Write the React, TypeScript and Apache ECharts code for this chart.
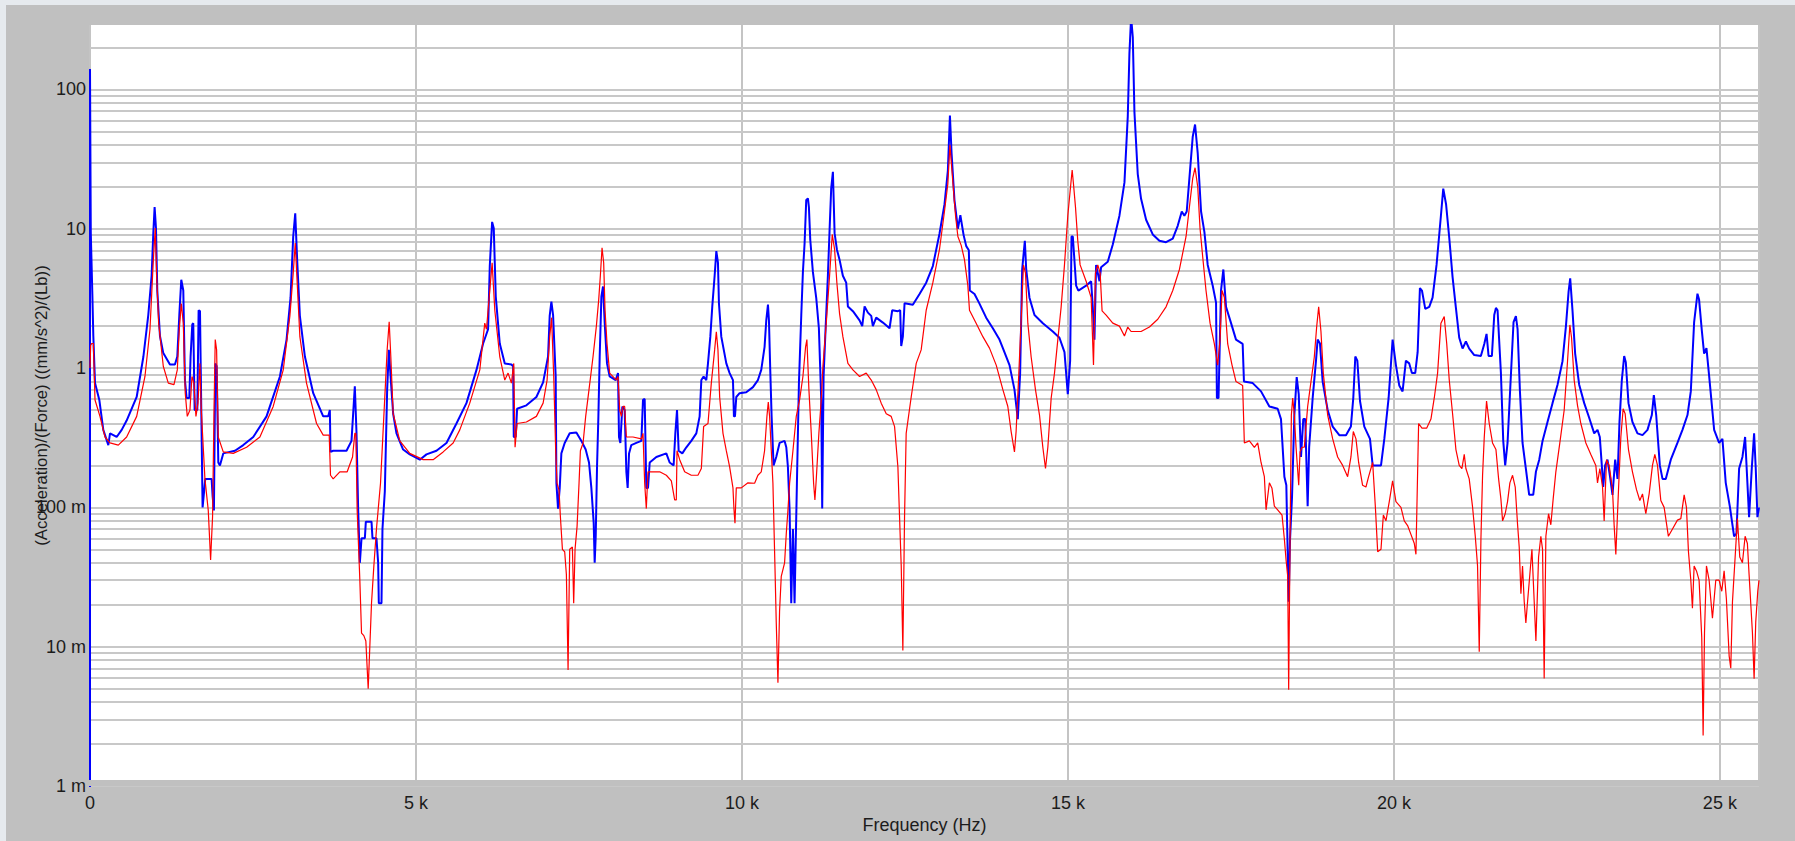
import React, { useEffect, useRef } from "react";
import * as echarts from "echarts";

// ---- Data (frequency in Hz, magnitude in (mm/s^2)/Lb) ----
const blueFreqHz = [
  0, 0, 12, 36, 51, 77, 143, 204, 281, 307, 409, 486, 562, 716, 818, 894, 945, 971, 991, 1012,
  1032, 1073, 1124, 1226, 1303, 1339, 1370, 1400, 1431, 1456, 1482, 1523, 1543, 1569, 1584, 1605, 1646, 1666, 1687, 1707,
  1727, 1768, 1865, 1881, 1901, 1922, 1943, 1968, 1993, 2044, 2223, 2351, 2504, 2708, 2913, 3015, 3076, 3117, 3148, 3178,
  3219, 3296, 3424, 3577, 3654, 3679, 3689, 3730, 3935, 4011, 4062, 4088, 4113, 4139, 4165, 4216, 4231, 4318, 4333, 4394,
  4420, 4430, 4471, 4486, 4522, 4558, 4584, 4614, 4650, 4701, 4803, 4905, 5059, 5161, 5314, 5468, 5621, 5774, 5928, 6030,
  6106, 6132, 6168, 6193, 6224, 6285, 6362, 6464, 6490, 6500, 6530, 6551, 6694, 6847, 6950, 7026, 7051, 7077, 7103, 7143,
  7154, 7179, 7205, 7230, 7281, 7358, 7460, 7537, 7603, 7654, 7690, 7726, 7741, 7757, 7777, 7798, 7818, 7844, 7869, 7895,
  7930, 7971, 8063, 8099, 8114, 8135, 8165, 8201, 8227, 8247, 8268, 8303, 8380, 8457, 8482, 8508, 8533, 8559, 8585, 8687,
  8840, 8891, 8952, 8978, 9004, 9029, 9085, 9147, 9223, 9300, 9351, 9377, 9412, 9453, 9479, 9515, 9545, 9581, 9607, 9632,
  9647, 9683, 9760, 9811, 9862, 9877, 9893, 9913, 9964, 10066, 10169, 10245, 10296, 10347, 10373, 10399, 10414, 10434, 10455, 10485,
  10526, 10577, 10654, 10680, 10705, 10731, 10756, 10782, 10807, 10823, 10843, 10874, 10910, 10935, 10961, 10986, 11012, 11027, 11048, 11088,
  11140, 11180, 11201, 11216, 11231, 11252, 11283, 11318, 11344, 11369, 11395, 11421, 11456, 11497, 11548, 11599, 11625, 11702, 11804, 11845,
  11881, 11932, 11983, 12008, 12059, 12162, 12264, 12305, 12391, 12427, 12443, 12468, 12494, 12621, 12724, 12826, 12928, 13030, 13107, 13158,
  13190, 13215, 13260, 13312, 13350, 13400, 13440, 13480, 13495, 13567, 13643, 13746, 13848, 13950, 14002, 14104, 14180, 14231, 14267, 14298,
  14339, 14360, 14410, 14487, 14615, 14768, 14870, 14947, 14998, 15034, 15055, 15075, 15126, 15160, 15279, 15356, 15381, 15407, 15432, 15484,
  15509, 15611, 15688, 15790, 15867, 15918, 15943, 15969, 15995, 16020, 16071, 16122, 16199, 16301, 16403, 16505, 16608, 16684, 16746, 16786,
  16822, 16863, 16914, 16950, 16991, 17042, 17093, 17144, 17221, 17272, 17285, 17310, 17348, 17384, 17425, 17502, 17578, 17680, 17700, 17834,
  17962, 18090, 18217, 18268, 18320, 18350, 18386, 18407, 18437, 18473, 18509, 18540, 18575, 18610, 18640, 18677, 18700, 18754, 18805, 18830,
  18866, 18907, 18984, 19061, 19163, 19265, 19340, 19377, 19408, 19439, 19480, 19546, 19633, 19674, 19802, 19853, 19919, 19980, 20031, 20082,
  20133, 20184, 20235, 20276, 20327, 20364, 20399, 20430, 20481, 20542, 20593, 20654, 20721, 20757, 20800, 20849, 20900, 20951, 21002, 21053,
  21104, 21155, 21232, 21334, 21386, 21421, 21452, 21503, 21539, 21565, 21590, 21641, 21677, 21707, 21743, 21794, 21835, 21871, 21897, 21933,
  21973, 22024, 22075, 22137, 22178, 22229, 22280, 22356, 22433, 22510, 22586, 22638, 22679, 22704, 22740, 22780, 22842, 22919, 22995, 23072,
  23123, 23158, 23189, 23210, 23240, 23276, 23312, 23353, 23394, 23430, 23460, 23496, 23532, 23557, 23598, 23659, 23736, 23813, 23890, 23956,
  23987, 24023, 24079, 24120, 24170, 24247, 24349, 24426, 24503, 24554, 24605, 24656, 24681, 24722, 24758, 24794, 24835, 24912, 24988, 25039,
  25090, 25152, 25218, 25254, 25295, 25346, 25387, 25422, 25448, 25489, 25525, 25550, 25576, 25600,
];
const blueMag = [
  0.0009, 140, 9.3, 3.4, 1.7, 0.78, 0.59, 0.36, 0.28, 0.34, 0.32, 0.36, 0.42, 0.62, 1.2, 2.4, 4.6, 9.3, 14.3, 10.1,
  3.6, 1.7, 1.28, 1.06, 1.06, 1.21, 2.4, 4.3, 3.6, 0.82, 0.61, 0.61, 1.21, 2.06, 2.1, 0.5, 0.5, 2.6, 2.56, 0.5,
  0.1, 0.16, 0.16, 0.12, 0.095, 1.08, 1.03, 0.21, 0.2, 0.244, 0.255, 0.28, 0.32, 0.45, 0.87, 1.6, 3.2, 8.8, 12.9, 5.9,
  2.37, 1.21, 0.66, 0.45, 0.45, 0.5, 0.25, 0.255, 0.255, 0.3, 0.74, 0.34, 0.098, 0.04, 0.06, 0.06, 0.079, 0.079, 0.06, 0.06,
  0.04, 0.0205, 0.0205, 0.07, 0.13, 0.7, 1.35, 0.82, 0.47, 0.34, 0.26, 0.24, 0.22, 0.24, 0.255, 0.29, 0.4, 0.56, 0.97, 1.5,
  1.9, 5.4, 11.2, 10.1, 3.26, 1.5, 1.08, 1.06, 1.03, 0.32, 0.32, 0.51, 0.54, 0.62, 0.79, 1.21, 2.37, 3.0, 2.4, 0.87,
  0.149, 0.098, 0.138, 0.244, 0.29, 0.34, 0.345, 0.3, 0.26, 0.21, 0.138, 0.077, 0.04, 0.062, 0.195, 0.45, 1.21, 3.26, 3.85, 2.1,
  1.08, 0.87, 0.82, 0.92, 0.32, 0.29, 0.53, 0.5, 0.18, 0.138, 0.244, 0.28, 0.29, 0.3, 0.59, 0.6, 0.138, 0.138, 0.21, 0.23,
  0.244, 0.21, 0.2, 0.34, 0.5, 0.255, 0.244, 0.27, 0.3, 0.34, 0.45, 0.82, 0.87, 0.82, 1.08, 1.68, 2.77, 4.6, 6.9, 5.7,
  2.92, 1.68, 1.08, 0.92, 0.82, 0.45, 0.45, 0.62, 0.66, 0.67, 0.73, 0.82, 0.97, 1.42, 2.2, 2.85, 2.2, 0.97, 0.45, 0.2,
  0.23, 0.29, 0.3, 0.27, 0.195, 0.095, 0.0205, 0.07, 0.0205, 0.05, 0.149, 0.78, 2.4, 4.9, 7.9, 16.1, 16.5, 14.3, 8.3, 4.9,
  3.16, 1.93, 0.97, 0.59, 0.098, 0.87, 1.93, 4.6, 9.8, 19.5, 25.6, 9.3, 7.1, 6.0, 4.6, 4.1, 2.77, 2.56, 2.2, 2.0,
  2.77, 2.5, 2.37, 2.0, 2.3, 2.12, 1.93, 2.6, 2.56, 2.6, 1.44, 1.68, 2.92, 2.85, 3.4, 4.1, 5.4, 9.2, 15, 26,
  65, 35, 16, 10, 12.5, 9, 7.5, 7, 3.6, 3.4, 2.9, 2.3, 1.93, 1.6, 1.39, 1.05, 0.7, 0.43, 0.92, 5.1,
  8.2, 5.1, 3.2, 2.4, 2.1, 1.83, 1.65, 1.3, 0.65, 1.13, 8.8, 8.8, 3.9, 3.6, 3.9, 4.2, 2.75, 1.6, 5.5, 4.2,
  5.3, 5.8, 7.7, 12.4, 21.5, 64, 180, 330, 237, 69, 24.7, 16.4, 11.6, 9.1, 8.2, 8.0, 8.5, 10.5, 13.3, 12.4,
  13.3, 23, 45.7, 56, 34.7, 13.3, 9.5, 5.5, 3.9, 2.95, 0.61, 0.61, 3.6, 5.1, 2.75, 2.1, 1.6, 1.49, 0.8, 0.78,
  0.68, 0.53, 0.51, 0.43, 0.166, 0.144, 0.021, 0.059, 0.118, 0.46, 0.86, 0.65, 0.23, 0.43, 0.43, 0.102, 0.27, 0.61, 1.13, 1.6,
  1.5, 0.8, 0.5, 0.38, 0.33, 0.33, 0.38, 0.61, 1.21, 1.13, 0.58, 0.38, 0.31, 0.2, 0.2, 0.31, 0.61, 1.6, 1.05, 0.75,
  0.68, 1.13, 1.08, 0.92, 0.92, 1.3, 3.75, 3.6, 2.66, 2.75, 3.2, 5.5, 12.4, 19.4, 15, 8.6, 4.5, 2.7, 1.65, 1.38,
  1.55, 1.38, 1.24, 1.22, 1.49, 1.76, 1.22, 1.22, 2.4, 2.7, 2.6, 0.93, 0.3, 0.2, 0.29, 0.88, 2.14, 2.36, 1.9, 0.68,
  0.29, 0.19, 0.123, 0.123, 0.18, 0.22, 0.3, 0.41, 0.56, 0.76, 1.12, 1.98, 3.52, 4.4, 2.56, 1.27, 0.76, 0.56, 0.44, 0.34,
  0.36, 0.32, 0.2, 0.14, 0.2, 0.22, 0.17, 0.123, 0.22, 0.16, 0.41, 0.82, 1.22, 1.1, 0.56, 0.41, 0.34, 0.33, 0.36, 0.46,
  0.64, 0.46, 0.2, 0.16, 0.16, 0.22, 0.29, 0.36, 0.46, 0.68, 2.14, 3.42, 3.1, 1.88, 1.27, 1.39, 0.88, 0.36, 0.29, 0.31,
  0.15, 0.102, 0.062, 0.065, 0.19, 0.23, 0.32, 0.15, 0.085, 0.19, 0.34, 0.19, 0.085, 0.1,
];

const redFreqHz = [
  0, 10, 25, 51, 77, 153, 230, 307, 434, 562, 716, 843, 920, 971, 1001, 1022, 1053, 1124, 1201, 1288,
  1339, 1370, 1400, 1431, 1461, 1492, 1533, 1564, 1594, 1625, 1656, 1686, 1707, 1763, 1814, 1850, 1880, 1901, 1921, 1942,
  1967, 2044, 2197, 2402, 2606, 2810, 2964, 3066, 3117, 3148, 3178, 3219, 3321, 3475, 3577, 3669, 3689, 3730, 3832, 3945,
  4027, 4062, 4078, 4098, 4139, 4165, 4200, 4231, 4267, 4318, 4354, 4395, 4456, 4507, 4558, 4589, 4614, 4650, 4752, 4905,
  5110, 5263, 5417, 5570, 5672, 5825, 5979, 6055, 6081, 6132, 6168, 6209, 6285, 6362, 6413, 6464, 6500, 6520, 6551, 6694,
  6847, 6950, 7011, 7051, 7080, 7113, 7143, 7164, 7194, 7215, 7246, 7281, 7307, 7333, 7358, 7399, 7419, 7440, 7471, 7501,
  7522, 7563, 7603, 7654, 7716, 7767, 7803, 7828, 7854, 7879, 7900, 7930, 7971, 8074, 8099, 8125, 8150, 8176, 8201, 8227,
  8329, 8457, 8482, 8508, 8533, 8559, 8636, 8738, 8840, 8917, 8968, 8993, 9004, 9045, 9121, 9223, 9325, 9377, 9412, 9479,
  9530, 9581, 9607, 9632, 9658, 9709, 9760, 9811, 9862, 9877, 9893, 9913, 9990, 10092, 10194, 10245, 10296, 10347, 10383, 10404,
  10424, 10450, 10475, 10506, 10526, 10552, 10577, 10603, 10654, 10680, 10705, 10731, 10782, 10833, 10884, 10935, 10976, 10996, 11027, 11063,
  11099, 11119, 11140, 11180, 11216, 11242, 11293, 11344, 11385, 11421, 11456, 11497, 11548, 11625, 11702, 11804, 11906, 11983, 12059, 12136,
  12213, 12289, 12341, 12392, 12417, 12443, 12468, 12494, 12519, 12596, 12673, 12749, 12826, 12928, 13030, 13107, 13158, 13190, 13235, 13276,
  13312, 13363, 13413, 13465, 13490, 13592, 13695, 13797, 13900, 14002, 14078, 14129, 14180, 14205, 14247, 14283, 14318, 14349, 14385, 14436,
  14502, 14564, 14615, 14656, 14692, 14743, 14794, 14845, 14896, 14947, 14998, 15034, 15065, 15085, 15116, 15151, 15187, 15279, 15356, 15392,
  15422, 15458, 15494, 15524, 15586, 15688, 15790, 15867, 15918, 15969, 16122, 16250, 16378, 16505, 16608, 16710, 16812, 16863, 16914, 16950,
  16991, 17026, 17067, 17118, 17180, 17246, 17297, 17333, 17364, 17400, 17451, 17517, 17578, 17680, 17706, 17783, 17860, 17911, 17962, 18013,
  18039, 18090, 18130, 18166, 18217, 18284, 18320, 18346, 18371, 18386, 18407, 18427, 18448, 18473, 18499, 18540, 18560, 18591, 18626, 18677,
  18728, 18779, 18815, 18846, 18881, 18917, 18984, 19061, 19137, 19214, 19290, 19341, 19377, 19418, 19459, 19520, 19571, 19612, 19674, 19715,
  19751, 19802, 19838, 19878, 19929, 19980, 20031, 20108, 20159, 20210, 20261, 20313, 20338, 20379, 20430, 20502, 20568, 20619, 20670, 20721,
  20772, 20810, 20849, 20900, 20951, 21002, 21043, 21079, 21104, 21155, 21207, 21248, 21283, 21309, 21335, 21360, 21386, 21421, 21462, 21513,
  21565, 21606, 21641, 21667, 21707, 21743, 21779, 21820, 21861, 21897, 21922, 21948, 21973, 21999, 22024, 22050, 22085, 22117, 22152, 22178,
  22219, 22254, 22280, 22305, 22331, 22372, 22407, 22443, 22484, 22545, 22612, 22663, 22699, 22725, 22765, 22816, 22867, 22944, 23021, 23097,
  23123, 23159, 23200, 23225, 23261, 23302, 23353, 23379, 23404, 23445, 23481, 23516, 23547, 23598, 23659, 23721, 23772, 23813, 23864, 23915,
  23966, 24002, 24043, 24094, 24145, 24210, 24273, 24349, 24401, 24452, 24487, 24518, 24554, 24579, 24605, 24641, 24681, 24722, 24743, 24764,
  24794, 24835, 24886, 24937, 24988, 25029, 25065, 25100, 25142, 25167, 25193, 25234, 25269, 25305, 25346, 25387, 25422, 25448, 25499, 25525,
  25550, 25581, 25600,
];
const redMag = [
  1.0, 1.45, 1.5, 1.5, 0.59, 0.45, 0.32, 0.29, 0.28, 0.32, 0.45, 0.87, 1.9, 5.9, 10.1, 4.6, 2.1, 1.03, 0.78, 0.76,
  0.97, 1.9, 2.9, 2.1, 0.66, 0.45, 0.5, 0.87, 0.78, 0.45, 0.56, 1.08, 0.5, 0.16, 0.095, 0.042, 0.086, 0.45, 1.6, 1.35,
  0.32, 0.25, 0.244, 0.27, 0.32, 0.53, 0.97, 2.37, 4.8, 7.9, 4.1, 1.68, 0.78, 0.4, 0.33, 0.33, 0.17, 0.16, 0.18, 0.18,
  0.23, 0.34, 0.34, 0.095, 0.03, 0.0125, 0.012, 0.011, 0.005, 0.0205, 0.038, 0.071, 0.149, 0.45, 1.35, 2.15, 1.21, 0.47, 0.3, 0.244,
  0.22, 0.22, 0.25, 0.29, 0.36, 0.56, 0.97, 2.1, 1.9, 3.6, 5.7, 2.6, 1.21, 0.82, 0.92, 0.78, 1.08, 0.27, 0.4, 0.41,
  0.45, 0.56, 0.82, 1.68, 2.3, 0.87, 0.255, 0.149, 0.133, 0.086, 0.05, 0.048, 0.033, 0.0068, 0.05, 0.052, 0.0205, 0.05, 0.073, 0.149,
  0.255, 0.29, 0.45, 0.7, 1.21, 2.0, 3.1, 4.6, 7.3, 5.7, 2.6, 1.5, 0.92, 0.82, 0.87, 0.5, 0.45, 0.53, 0.53, 0.32,
  0.32, 0.31, 0.34, 0.149, 0.098, 0.18, 0.18, 0.18, 0.17, 0.155, 0.113, 0.113, 0.255, 0.22, 0.18, 0.17, 0.17, 0.19, 0.38, 0.4,
  0.78, 1.35, 1.82, 1.35, 0.62, 0.34, 0.255, 0.195, 0.138, 0.098, 0.077, 0.138, 0.138, 0.15, 0.149, 0.17, 0.18, 0.255, 0.45, 0.57,
  0.45, 0.255, 0.149, 0.038, 0.015, 0.0055, 0.018, 0.032, 0.04, 0.065, 0.095, 0.149, 0.255, 0.45, 0.59, 0.87, 1.42, 1.6, 0.7, 0.34,
  0.149, 0.113, 0.16, 0.34, 0.59, 1.03, 2.1, 4.6, 9.1, 7.1, 4.1, 2.46, 1.68, 1.08, 0.97, 0.87, 0.92, 0.82, 0.7, 0.56,
  0.47, 0.45, 0.38, 0.195, 0.086, 0.038, 0.0094, 0.086, 0.34, 0.62, 1.08, 1.35, 2.6, 4.1, 7.1, 13.4, 21, 40, 21.5, 12.4,
  8.8, 7.6, 6.0, 3.9, 2.6, 2.1, 1.68, 1.39, 1.05, 0.7, 0.53, 0.35, 0.25, 0.35, 0.92, 2.24, 5.5, 4.8, 2.1, 1.2,
  0.7, 0.46, 0.27, 0.19, 0.27, 0.61, 0.92, 1.6, 2.75, 5.5, 12.4, 18.7, 26.4, 21, 14.3, 8.2, 5.5, 4.2, 3.2, 1.05,
  4.8, 5.5, 4.8, 2.57, 2.4, 2.1, 2.0, 1.7, 1.97, 1.83, 1.83, 1.97, 2.24, 2.75, 3.6, 5.1, 8.8, 14.3, 23, 27.4,
  20, 10.1, 6.3, 3.6, 2.1, 1.49, 1.05, 1.6, 3.6, 3.2, 1.49, 1.05, 0.8, 0.75, 0.29, 0.3, 0.27, 0.29, 0.21, 0.166,
  0.096, 0.15, 0.137, 0.102, 0.096, 0.088, 0.059, 0.042, 0.032, 0.0049, 0.059, 0.46, 0.61, 0.46, 0.27, 0.144, 0.25, 0.27, 0.27, 0.53,
  0.8, 1.2, 1.97, 2.75, 1.83, 0.92, 0.46, 0.31, 0.23, 0.2, 0.166, 0.23, 0.35, 0.31, 0.21, 0.144, 0.14, 0.166, 0.21, 0.102,
  0.048, 0.05, 0.088, 0.08, 0.11, 0.155, 0.11, 0.1, 0.08, 0.074, 0.064, 0.055, 0.046, 0.4, 0.37, 0.37, 0.43, 0.61, 0.92, 2.1,
  2.34, 1.5, 0.82, 0.47, 0.26, 0.2, 0.19, 0.24, 0.19, 0.16, 0.1, 0.062, 0.038, 0.0092, 0.06, 0.17, 0.32, 0.58, 0.4, 0.29,
  0.26, 0.16, 0.115, 0.08, 0.09, 0.11, 0.15, 0.17, 0.14, 0.075, 0.052, 0.024, 0.038, 0.021, 0.0148, 0.021, 0.033, 0.05, 0.021, 0.011,
  0.044, 0.062, 0.05, 0.0059, 0.062, 0.09, 0.075, 0.115, 0.18, 0.29, 0.5, 1.12, 2.04, 1.65, 0.82, 0.54, 0.4, 0.29, 0.24, 0.2,
  0.15, 0.19, 0.14, 0.08, 0.22, 0.2, 0.134, 0.073, 0.046, 0.134, 0.32, 0.51, 0.47, 0.26, 0.18, 0.134, 0.112, 0.125, 0.09, 0.125,
  0.2, 0.24, 0.2, 0.112, 0.1, 0.062, 0.07, 0.081, 0.083, 0.123, 0.1, 0.048, 0.03, 0.0189, 0.038, 0.035, 0.03, 0.0116, 0.0023, 0.0125,
  0.038, 0.03, 0.016, 0.03, 0.03, 0.025, 0.035, 0.022, 0.0086, 0.007, 0.021, 0.044, 0.083, 0.044, 0.04, 0.062, 0.055, 0.033, 0.0127, 0.0059,
  0.015, 0.025, 0.03,
];

// ---- Axes ----
const xMaxHz = 25600;
const xTickStepHz = 5000;
const xTickLabels = ["0", "5 k", "10 k", "15 k", "20 k", "25 k"];
const yMin = 0.001;
const yMax = 290;
const yDecades = [0.001, 0.01, 0.1, 1, 10, 100];
const yDecadeLabels = ["1 m", "10 m", "100 m", "1", "10", "100"];
const yMinorMultipliers = [1, 2, 3, 4, 5, 6, 7, 8, 9];

const FONT = "'Liberation Sans', Arial, sans-serif";
const TEXT = "#1c1c1c";

export default function App() {
  const ref = useRef<HTMLDivElement>(null);

  useEffect(() => {
    document.body.style.margin = "0";
    if (!ref.current) return;
    const chart = echarts.init(ref.current, undefined, { renderer: "svg" });

    const gridLineValues: number[] = [];
    yDecades.forEach((d) =>
      yMinorMultipliers.forEach((m) => {
        const v = d * m;
        if (v >= yMin && v <= yMax) gridLineValues.push(v);
      })
    );

    const blueData = blueFreqHz.map((f, i) => [f, blueMag[i]]);
    const redData = redFreqHz.map((f, i) => [f, redMag[i]]);

    chart.setOption({
      animation: false,
      backgroundColor: "#c0c0c0",
      grid: {
        left: 90,
        top: 25,
        right: 36,
        bottom: 55,
        show: true,
        backgroundColor: "#ffffff",
        borderWidth: 0,
        containLabel: false,
      },
      xAxis: {
        type: "value",
        min: 0,
        max: xMaxHz,
        interval: xTickStepHz,
        name: "Frequency (Hz)",
        nameLocation: "middle",
        nameGap: 30,
        nameMoveOverlap: false,
        nameTextStyle: { color: TEXT, fontSize: 18, fontFamily: FONT },
        axisLine: { show: false },
        axisTick: { show: false },
        axisLabel: {
          color: TEXT,
          fontSize: 18,
          fontFamily: FONT,
          margin: 8,
          showMaxLabel: false,
          formatter: (v: number) => {
            const i = Math.round(v / xTickStepHz);
            return Math.abs(v - i * xTickStepHz) < 1e-6 && xTickLabels[i] !== undefined ? xTickLabels[i] : "";
          },
        },
        splitLine: { show: true, lineStyle: { color: "#c4c4c4", width: 2 } },
      },
      yAxis: {
        type: "log",
        logBase: 10,
        min: yMin,
        max: yMax,
        name: "(Acceleration)/(Force) ((mm/s^2)/(Lb))",
        nameLocation: "middle",
        nameGap: 40,
        nameMoveOverlap: false,
        nameTextStyle: { color: TEXT, fontSize: 16.7, fontFamily: FONT },
        axisLine: { show: false },
        axisTick: { show: false },
        splitLine: { show: false },
        axisLabel: {
          color: TEXT,
          fontSize: 18,
          fontFamily: FONT,
          margin: 4,
          showMaxLabel: false,
          formatter: (v: number) => {
            const lv = Math.log10(v);
            const idx = yDecades.findIndex((d) => Math.abs(Math.log10(d) - lv) < 1e-6);
            return idx >= 0 ? yDecadeLabels[idx] : "";
          },
        },
      },
      graphic: [
        { type: "rect", shape: { x: 0, y: 0, width: 1795, height: 5 }, style: { fill: "#e6eaee" }, z: 100 },
        { type: "rect", shape: { x: 0, y: 0, width: 6, height: 841 }, style: { fill: "#e6eaee" }, z: 100 },
        { type: "rect", shape: { x: 88, y: 780, width: 1675, height: 6 }, style: { fill: "#c0c0c0" }, z: 100 },
      ],
      series: [
        {
          name: "grid",
          type: "lines",
          coordinateSystem: "cartesian2d",
          silent: true,
          z: 1,
          lineStyle: { color: "#c8c8c8", width: 2, opacity: 1 },
          data: gridLineValues.map((v) => ({ coords: [[0, v], [xMaxHz, v]] })),
        },
        {
          name: "blue",
          type: "line",
          showSymbol: false,
          symbol: "none",
          z: 3,
          lineStyle: { color: "#0000ff", width: 2 },
          itemStyle: { color: "#0000ff" },
          data: blueData,
        },
        {
          name: "red",
          type: "line",
          showSymbol: false,
          symbol: "none",
          z: 4,
          lineStyle: { color: "#ff0000", width: 1.2 },
          itemStyle: { color: "#ff0000" },
          data: redData,
        },
      ],
    });

    return () => chart.dispose();
  }, []);

  return (
    <div
      ref={ref}
      style={{ position: "fixed", left: 0, top: 0, width: 1795, height: 841 }}
    />
  );
}
